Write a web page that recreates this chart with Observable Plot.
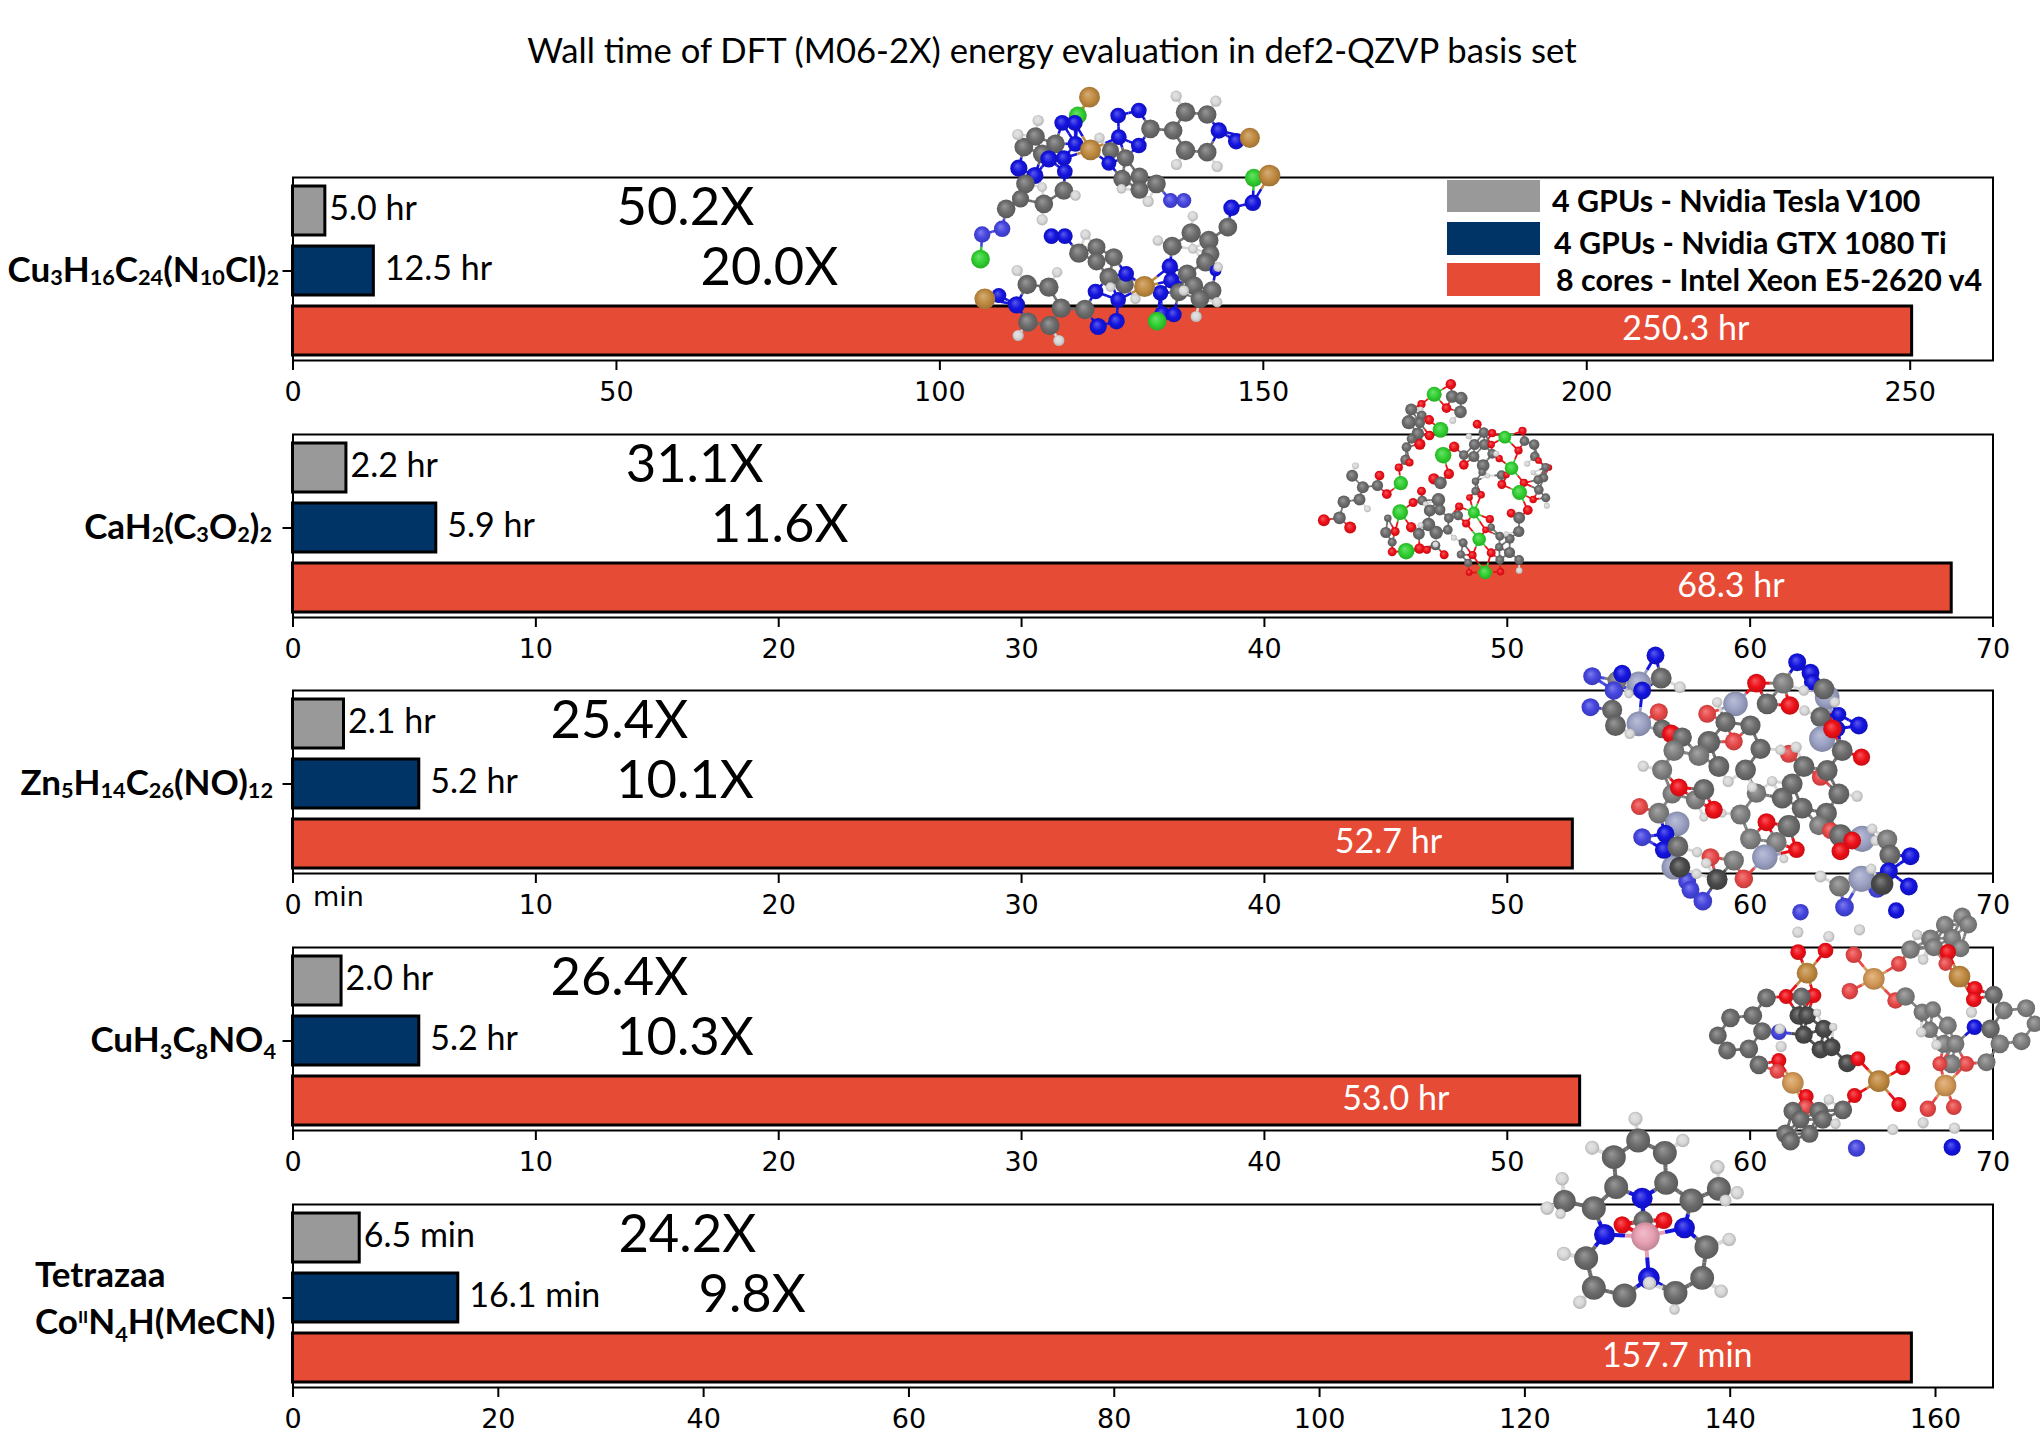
<!DOCTYPE html>
<html><head><meta charset="utf-8">
<script src="https://cdn.jsdelivr.net/npm/d3@7"></script>
<script src="https://cdn.jsdelivr.net/npm/@observablehq/plot@0.6"></script>
<style>
html,body{margin:0;padding:0;background:#fff;}
#page{position:relative;width:2040px;height:1440px;overflow:hidden;background:#fff;color:#000;}
#page>*{position:absolute;}
.txt{font-family:Lato,sans-serif;white-space:nowrap;}
svg{overflow:visible;}
</style></head><body><div id="page"></div>
<script>
const FONT = "Lato, sans-serif", TICKFONT = "'DejaVu Sans', sans-serif";
const titleText = "Wall time of DFT (M06-2X) energy evaluation in def2-QZVP basis set";
const seriesNames = ["4 GPUs - Nvidia Tesla V100","4 GPUs - Nvidia GTX 1080 Ti","8 cores - Intel Xeon E5-2620 v4"];
const seriesColors = ["#999999","#003366","#e64b35"];

const units = ["hr","hr","hr","hr","min"];
const v100 = [5.0,2.2,2.1,2.0,6.5];
const gtx = [12.5,5.9,5.2,5.2,16.1];
const xeon = [250.3,68.3,52.7,53.0,157.7];
const xeonLabelX = [205.5,57,42.9,43.2,127.5];
const speedV100 = ["50.2X","31.1X","25.4X","26.4X","24.2X"];
const speedGtx = ["20.0X","11.6X","10.1X","10.3X","9.8X"];
const speedV100X = [50,13.7,10.6,10.6,31.7];
const speedGtxX = [63,17.2,13.3,13.3,39.5];
const xMax = [262.8,70,70,70,165.6];
const xTicks = [[0,50,100,150,200,250],[0,10,20,30,40,50,60,70],[0,10,20,30,40,50,60,70],[0,10,20,30,40,50,60,70],[0,20,40,60,80,100,120,140,160]];
const panelTop = [177,433.7,690.4,947.2,1204];
const yLabels = ["Cu_{3}H_{16}C_{24}(N_{10}Cl)_{2}","CaH_{2}(C_{3}O_{2})_{2}","Zn_{5}H_{14}C_{26}(NO)_{12}","CuH_{3}C_{8}NO_{4}",null];
const yLabelEnd = [-14,-21,-20,-17,0];
const subDrop = [3,3,3,7,8];
const tetrazaaLines = ["Tetrazaa","Co^{II}N_{4}H(MeCN)"];

/* atoms: [element, x, y, radius], at 3x of the crop starting at molOrigin */
const mol1 = [["Cl",412,165,24],["Cu",447,110,28],["N",533,165,21],["N",595,150,21],["N",535,230,21],["N",595,255,21],["C",630,205,25],["C",698,210,25],["C",735,155,26],["C",800,162,25],["C",735,270,26],["C",800,275,25],["H",707,107,15],["H",826,122,15],["H",708,312,15],["H",830,318,15],["N",835,210,22],["N",887,242,22],["Cu",928,232,27],["Cl",940,352,24],["Cu",987,345,29],
["C",250,260,25],["C",285,228,25],["C",345,250,25],["C",305,280,25],["H",232,222,15],["H",293,180,15],["H",477,232,14],["N",365,187,21],["N",403,187,21],["N",405,250,21],["N",370,293,21],["N",373,333,21],["Cu",450,268,28],["N",235,323,23],["N",325,295,23],["N",283,345,23],
["C",255,370,25],["C",240,415,23],["C",370,390,25],["C",310,430,25],["C",197,445,25],["H",405,405,14],["H",305,380,13],["H",305,478,15],["n",185,505,22],["n",125,522,22],
["C",510,270,23],["C",555,292,23],["N",505,308,20],["C",545,355,24],["C",597,348,24],["C",597,388,24],["C",648,370,25],["H",543,385,13],["H",623,423,15],["n",690,420,20],["n",730,420,20],
["N",333,527,21],["N",373,527,21],["H",435,522,14],["C",415,578,26],["C",468,560,24],["C",520,590,24],["C",468,603,24],["C",505,650,25],["C",552,672,25],["N",557,640,21],["H",510,680,13],["H",585,715,14],["H",652,540,14],["H",757,467,14],
["C",752,517,26],["C",695,557,25],["C",805,540,26],["C",862,500,25],["N",873,442,22],["N",937,427,22],["C",810,580,24],["C",795,605,25],["H",757,565,13],["N",825,630,16],["H",833,620,13],["N",660,697,21],["N",665,760,21],["N",700,762,21],["N",688,618,22],["N",693,660,22],["Cu",612,678,28],["C",740,640,25],["C",760,675,25],["C",815,690,25],["C",715,695,24],["C",778,715,25],["H",730,690,14],["H",830,725,14],["H",767,768,15],["Cl",650,782,25],
["Cl",120,596,25],["N",175,705,20],["Cu",133,715,28],["N",228,733,23],["C",260,672,26],["C",325,680,26],["C",362,743,26],["C",262,785,26],["C",328,795,26],["C",433,747,26],["H",230,630,15],["H",350,635,14],["H",233,825,15],["H",355,840,15],["N",465,693,21],["N",533,718,21],["N",528,782,22],["N",473,798,23]];
const mol2 = [["Cl",401,71,20],["O",451,41,14],["C",455,78,17],["C",482,83,17],["C",480,124,17],["O",438,113,13],["H",457,150,9],["O",363,101,11],["C",332,117,16],["H",360,117,8],["C",364,135,13],["C",325,155,19],["O",386,148,13],["C",358,157,14],["Cl",420,178,21],["C",352,190,17],["O",387,195,13],["O",358,221,15],["C",333,205,13],["C",318,230,13],["C",315,268,14],["O",295,291,11],["O",327,276,11],
["O",530,161,12],["C",550,186,14],["O",575,188,11],["Cl",613,200,17],["H",505,197,8],["C",522,222,15],["C",552,222,15],["O",572,222,10],["C",575,250,13],["C",520,258,15],["O",596,264,10],["H",587,250,8],["C",548,285,17],["H",561,316,7],["O",461,229,14],["C",490,254,13],["O",490,283,13],["Cl",428,254,22],["O",400,325,15],["O",445,310,14],["C",420,337,17],["C",414,388,18],
["C",525,332,10],["C",545,305,10],["C",525,362,11],["O",507,381,9],["O",542,373,10],["Cl",520,426,16],["O",476,408,11],["C",473,435,13],["O",497,459,11],["C",445,443,13],["C",442,478,13],["H",460,502,8],
["C",603,314,13],["O",618,313,9],["O",604,342,12],["Cl",633,293,18],["O",654,240,11],["C",672,212,13],["O",666,181,11],["C",701,222,14],["C",703,258,13],["O",714,270,9],["H",680,280,8],["O",745,291,9],["C",735,290,11],["C",730,322,12],["H",698,306,7],["C",712,328,12],["C",715,358,13],["O",670,337,11],["Cl",657,366,20],["O",698,387,10],["C",736,382,12],["H",739,406,8],["O",632,428,12],["O",682,419,13],["C",656,442,16],["C",655,483,15],
["H",165,286,9],["C",155,316,16],["C",187,350,16],["O",237,315,13],["C",231,345,15],["O",259,371,13],["Cl",301,338,19],["C",177,387,16],["C",130,394,17],["H",201,415,9],["C",117,442,17],["O",70,449,16],["O",149,471,16],
["O",363,362,12],["C",365,390,13],["O",338,396,12],["H",375,400,7],["C",388,420,16],["C",418,418,15],["Cl",299,425,21],["C",384,462,18],["C",407,486,18],["C",262,443,10],["C",256,486,15],["C",275,515,12],["O",284,483,12],["O",275,544,12],["O",332,470,14],["H",360,464,8],["C",355,490,16],["Cl",317,542,22],["O",357,534,14],["O",379,538,11],["C",405,525,13],["H",405,522,8],["O",431,553,12],
["O",568,446,11],["C",572,470,10],["O",555,478,9],["Cl",536,506,18],["C",598,497,12],["C",628,505,13],["C",596,530,11],["H",617,490,7],["O",572,547,12],["C",627,546,15],["C",598,568,12],["C",656,568,13],["H",656,600,9],["C",488,517,12],["C",481,552,11],["O",516,554,11],["C",503,577,11],["O",506,606,9],["Cl",554,606,18],["O",600,604,10]];
const mol3 = [["c",140,120,26],["z",205,130,33],["H",175,160,12],["n",65,107,24],["n",130,150,25],["n",60,200,24],["N",155,100,24],["N",255,45,24],["C",272,113,28],["H",328,140,16],["N",215,150,24],["o",265,215,24],["C",125,208,27],["C",135,255,28],["z",205,250,33],["H",178,280,14],["C",275,265,25],["O",302,280,25],["C",335,290,26],
["o",410,220,24],["H",440,185,14],["z",495,190,33],["C",465,245,27],["o",490,303,24],["C",415,305,30],["c",385,345,28],["c",310,330,28],["c",275,388,27],["H",218,377,15],["C",445,378,28],["C",525,388,28],["C",570,325,27],["C",540,255,27],["C",590,190,28],["O",558,128,25],["c",638,128,28],["O",658,195,25],["o",655,340,24],["H",630,328,14],["H",677,320,15],
["N",680,65,24],["N",720,97,24],["N",725,125,22],["z",770,170,33],["C",760,145,28],["H",700,150,14],["H",793,185,14],["H",702,210,14],["C",750,230,27],["N",805,222,20],["N",865,255,24],["N",800,265,22],["z",755,295,35],["O",786,265,25],["C",815,330,28],["O",873,350,23],["o",750,410,23],["C",770,390,28],["C",700,378,28],["C",805,460,28],["H",860,467,15],["H",605,422,14],["C",665,430,28],["C",635,473,28],["c",558,458,26],["H",545,440,14],["H",473,423,15],["c",305,460,26],["c",375,478,26],["C",400,447,28],["O",325,441,24],["c",510,522,27],["H",455,518,12],["H",400,530,12],["O",430,508,24],["c",265,518,28],["o",207,498,23],["z",320,550,33],
["C",695,503,28],["C",768,518,28],["c",745,555,26],["o",780,570,23],["C",655,557,30],["O",588,545,24],["c",540,595,28],["c",618,605,27],["O",678,628,22],["z",583,650,34],["H",640,655,12],["c",490,660,27],["o",420,650,24],["o",520,715,25],["d",440,717,28],
["z",310,680,33],["n",215,590,24],["N",285,580,24],["N",280,628,24],["C",322,618,28],["H",380,635,14],["n",350,722,24],["n",360,748,24],["n",397,782,25],["d",328,680,28],["H",407,668,14],["H",378,700,14],
["C",810,585,30],["z",875,595,35],["O",845,600,24],["O",810,632,24],["H",905,565,14],["H",915,600,14],["c",950,597,27],["C",958,643,28],["N",1020,647,24],["n",920,745,24],["z",873,715,35],["N",955,692,24],["N",1015,738,24],["H",902,685,14],["d",935,730,30],["H",750,708,16],["c",807,737,28],["n",822,800,25]];
const mol4 = [["n",315,35,22],["N",602,30,22],["H",307,95,15],["H",400,108,15],["H",492,88,15],["c",800,48,24],["c",748,73,24],["c",818,72,24],["c",705,115,25],["c",770,112,24],["c",715,140,24],["c",795,143,24],["H",665,103,14],["c",645,147,25],["H",683,177,14],["o",610,190,21],["o",475,163,22],["k",535,235,29],["o",463,272,22],["o",600,300,22],["c",630,288,25],
["O",308,155,21],["O",390,150,21],["Cu",335,218,28],["O",272,288,20],["O",355,285,20],["C",213,292,25],["C",318,288,24],["C",172,345,25],["C",105,352,25],["d",310,345,25],["d",335,345,24],["H",365,337,11],["C",67,405,24],["C",200,392,24],["n",250,395,21],["H",253,385,14],["d",325,403,24],["d",385,385,24],["H",413,380,11],["C",95,450,24],["C",160,445,25],["d",375,447,24],["d",408,440,24],["H",257,438,15],["C",190,493,25],["O",250,480,20],["o",245,512,20],["k",292,547,29],["d",455,488,24],["O",487,475,20],["Cu",550,542,29],["O",622,502,20],["O",610,612,20],["O",477,585,20],["C",442,628,25],["O",332,588,20],["o",330,620,20],["H",400,597,14],["C",292,632,25],["C",370,632,25],["C",315,657,24],["C",382,657,25],["H",420,670,14],["C",270,700,25],["C",342,700,24],["C",285,722,25],
["n",483,743,23],["N",770,740,23],["H",592,687,15],["H",683,667,15],["H",777,683,15],["H",65,800,19],
["O",757,155,22],["o",750,190,19],["Cu",792,228,29],["O",838,265,21],["O",835,297,21],["C",895,283,24],["c",925,330,24],["c",992,323,24],["H",828,335,15],["N",837,380,21],["C",885,385,25],["c",1018,370,22],["c",978,422,24],["c",913,430,25],["c",873,485,24],["o",812,490,21],["c",768,490,25],["o",733,490,20],["k",750,555,29],["o",697,625,22],["o",775,620,21],
["c",680,335,23],["c",712,327,22],["c",757,375,24],["c",703,388,22],["H",677,395,14],["c",745,430,24],["c",780,430,24],["H",723,433,14]];
const mol5 = [["H",315,40,19],["C",323,105,32],["H",457,105,18],["C",403,142,32],["H",185,127,19],["C",250,155,32],["C",407,232,32],["C",257,245,32],["H",562,185,18],["C",565,250,32],["H",95,220,18],["C",102,287,30],["H",50,308,18],["H",90,325,14],["H",620,262,18],["H",585,285,16],["C",483,285,32],["C",190,308,32],["N",335,278,28],["C",338,345,26],["O",275,358,23],["O",400,345,23],["N",462,367,28],["N",222,387,28],["Co",345,393,38],["H",100,445,19],["C",167,458,32],["C",528,425,32],["H",596,402,18],["N",355,518,29],["C",190,547,32],["C",515,517,32],["C",435,562,32],["C",282,570,32],["H",357,533,18],["H",572,557,18],["H",148,590,18],["H",432,612,14]];
const molecules = [mol1,mol2,mol3,mol4,mol5];
const molOrigin = [[940,60],[1300,370],[1570,640],[1695,900],[1530,1105]];
const bondLength = [75,50,80,78,98];
const bondWidth = [2.6,1.8,3,2.8,4];
const atomScale = 1.12;
const elementColors = {C:"#6c6c6c",c:"#808080",d:"#4a4a4a",H:"#d8d8d8",N:"#1414e0",n:"#4545e0",O:"#ee1018",o:"#e84848",Cu:"#c08a40",k:"#d49a58",Cl:"#30d030",Zn:"#8c92b8",z:"#9ca2c4",Co:"#e8a0b4"};

const page = document.getElementById("page");

function richText(el, drop) {
  const s = el.textContent; el.textContent = "";
  let shift = 0;
  for (const part of s.split(/([_^]\{[^}]*\})/)) {
    if (!part) continue;
    const ts = document.createElementNS("http://www.w3.org/2000/svg","tspan");
    const m = part.match(/^([_^])\{(.*)\}$/);
    if (m) {
      const target = m[1] === "_" ? drop : -11;
      ts.setAttribute("dy", target - shift); shift = target;
      ts.setAttribute("font-size", m[1] === "_" ? "62%" : "50%");
      ts.textContent = m[2];
    } else {
      ts.setAttribute("dy", -shift); shift = 0;
      ts.textContent = part;
    }
    el.appendChild(ts);
  }
}

v100.forEach((_, i) => {
  const rows = seriesNames.map((name, j) => ({name, value:[v100,gtx,xeon][j][i]}));
  const fmt = v => `${v.toFixed(1)} ${units[i]}`;
  const labelOpts = {fontFamily:FONT, fontSize:34, textAnchor:"start", lineAnchor:"middle"};
  const speedOpts = {fontFamily:FONT, fontSize:52.5, textAnchor:"start", lineAnchor:"middle", dy:-3};
  const axisLabelOpts = {textAnchor:"start", lineAnchor:"middle", fontFamily:FONT, fontWeight:700, fontSize:35, className:"rich"};
  const marks = [
    Plot.barX(rows, {x:"value", y:"name", fill:"name", stroke:"black", strokeWidth:3}),
    Plot.text([rows[0]], {x:"value", y:"name", text:d=>fmt(d.value), dx:4, dy:-2, ...labelOpts}),
    Plot.text([rows[1]], {x:"value", y:"name", text:d=>fmt(d.value), dx:11, dy:-2, ...labelOpts}),
    Plot.text([rows[2]], {x:[xeonLabelX[i]], y:"name", text:d=>fmt(d.value), fill:"white", dy:-2, ...labelOpts}),
    Plot.text([speedV100[i]], {x:[speedV100X[i]], y:[seriesNames[0]], text:d=>d, ...speedOpts}),
    Plot.text([speedGtx[i]], {x:[speedGtxX[i]], y:[seriesNames[1]], text:d=>d, ...speedOpts}),
    Plot.axisX({ticks:xTicks[i], tickSize:10, tickPadding:11, fontSize:27, fontFamily:TICKFONT, strokeWidth:2, tickFormat:d=>String(d), label:null, anchor:"bottom"}),
    Plot.axisY({ticks:[seriesNames[1]], tickSize:10, tickFormat:()=>"", strokeWidth:2, label:null, anchor:"left"}),
    Plot.frame({stroke:"black", strokeWidth:2})
  ];
  if (yLabels[i]) {
    marks.push(Plot.text([yLabels[i]], {x:[0], y:[seriesNames[1]], text:d=>d, dx:yLabelEnd[i], ...axisLabelOpts, textAnchor:"end"}));
  } else {
    marks.push(Plot.text([tetrazaaLines[0]], {x:[0], y:[seriesNames[1]], text:d=>d, dx:-258, dy:-22, ...axisLabelOpts}));
    marks.push(Plot.text([tetrazaaLines[1]], {x:[0], y:[seriesNames[1]], text:d=>d, dx:-258, dy:25, ...axisLabelOpts}));
  }
  if (i === 2) {
    marks.push(Plot.text(["min"], {x:[0], frameAnchor:"bottom", text:d=>d, dx:20, dy:32, textAnchor:"start", fontFamily:TICKFONT, fontSize:27}));
  }
  const chart = Plot.plot({
    width:2040, height:240, marginTop:5, marginBottom:52, marginLeft:292.5, marginRight:47.5,
    style:{background:"transparent", overflow:"visible"},
    x:{domain:[0,xMax[i]]},
    y:{domain:seriesNames, paddingInner:0.18, paddingOuter:0.1025, align:0.63},
    color:{domain:seriesNames, range:seriesColors},
    marks
  });
  chart.style.position = "absolute";
  chart.style.left = "0px";
  chart.style.top = (panelTop[i]-5) + "px";
  page.appendChild(chart);
  chart.querySelectorAll(".rich text").forEach(t => richText(t, subDrop[i]));
});

const title = document.createElement("div");
title.className = "txt";
title.textContent = titleText;
title.style.cssText = "left:0;width:2104px;top:28px;text-align:center;font-size:34.65px;line-height:44px;";
page.appendChild(title);

const legendY = [180,222,263], legendH = [32,33,33], legendTextX = [1552,1554,1556], legendTextY = [200,242,279];
seriesNames.forEach((n,i)=>{
  const sw = document.createElement("div");
  sw.style.cssText = `left:1447px;top:${legendY[i]}px;width:93px;height:${legendH[i]}px;background:${seriesColors[i]};`;
  page.appendChild(sw);
  const t = document.createElement("div");
  t.className = "txt";
  t.textContent = n;
  t.style.cssText = `left:${legendTextX[i]}px;top:${legendTextY[i]-20}px;line-height:40px;font-size:30.4px;font-weight:700;`;
  page.appendChild(t);
});

/* molecules overlay */
const atoms = [], bonds = [];
const isMetal = e => ["Cu","k","Cl","Zn","z","Co"].includes(e);
const isOxygen = e => e==="O"||e==="o";
const isNitrogen = e => e==="N"||e==="n";
const isCarbon = e => e==="C"||e==="c"||e==="d";
molecules.forEach((mol, m) => {
  const [ox, oy] = molOrigin[m];
  const pts = mol.map(([el,x,y,r]) => ({el, x:ox+x/3, y:oy+y/3, r:r*atomScale/3, cx:x, cy:y}));
  for (let a=0;a<pts.length;a++) for (let b=a+1;b<pts.length;b++) {
    const p=pts[a], q=pts[b];
    if (p.el==="H" && q.el==="H") continue;
    if (isOxygen(p.el) && isOxygen(q.el)) continue;
    if ((isOxygen(p.el)&&isNitrogen(q.el))||(isNitrogen(p.el)&&isOxygen(q.el))) continue;
    if ((p.el==="H"||q.el==="H") && !(isCarbon(p.el)||isCarbon(q.el))) continue;
    if (isMetal(p.el) && isMetal(q.el) && m!==0) continue;
    const anyMetal = isMetal(p.el)||isMetal(q.el);
    if (anyMetal && (isCarbon(p.el)||isCarbon(q.el))) continue;
    const d = Math.hypot(p.cx-q.cx, p.cy-q.cy);
    const lim = (p.el==="H"||q.el==="H") ? bondLength[m]*0.85 : anyMetal ? bondLength[m]*1.3 : bondLength[m];
    if (d > lim) continue;
    const mx=(p.x+q.x)/2, my=(p.y+q.y)/2;
    bonds.push({x1:p.x,y1:p.y,x2:mx,y2:my,c:elementColors[p.el],w:bondWidth[m]});
    bonds.push({x1:mx,y1:my,x2:q.x,y2:q.y,c:elementColors[q.el],w:bondWidth[m]});
  }
  atoms.push(...pts);
});
const defs = () => {
  const d = d3.create("svg:defs");
  for (const [k,c] of Object.entries(elementColors)) {
    const g = d.append("radialGradient").attr("id","ball"+k).attr("cx","50%").attr("cy","50%").attr("r","55%").attr("fx","40%").attr("fy","35%");
    g.append("stop").attr("offset","0%").attr("stop-color",d3.interpolateRgb(c,"#fff")(0.3));
    g.append("stop").attr("offset","55%").attr("stop-color",c);
    g.append("stop").attr("offset","100%").attr("stop-color",d3.interpolateRgb(c,"#000")(0.2));
  }
  return d.node();
};
const overlay = Plot.plot({
  width:2040, height:1440, margin:0, style:{background:"transparent"},
  x:{domain:[0,2040], range:[0,2040], axis:null},
  y:{domain:[0,1440], range:[0,1440], axis:null},
  marks:[
    defs,
    Plot.link(bonds,{x1:"x1",y1:"y1",x2:"x2",y2:"y2",stroke:{value:"c",scale:null},strokeWidth:{value:"w",scale:null}}),
    Plot.dot(atoms,{x:"x",y:"y",r:{value:"r",scale:null},fill:{value:d=>`url(#ball${d.el})`,scale:null},sort:null})
  ]
});
overlay.style.position="absolute"; overlay.style.left="0"; overlay.style.top="0";
page.appendChild(overlay);
</script></body></html>
